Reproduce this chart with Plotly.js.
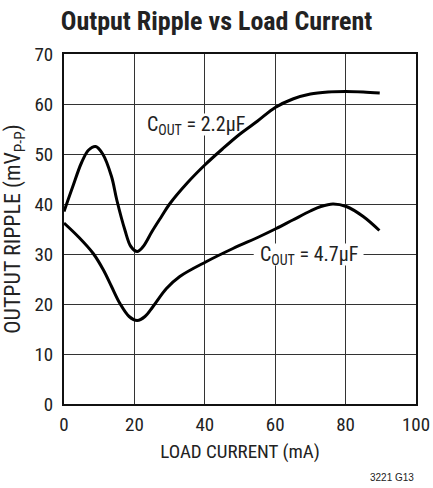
<!DOCTYPE html>
<html>
<head>
<meta charset="utf-8">
<script src="https://cdn.plot.ly/plotly-3.0.1.min.js"></script>
<style>html,body{margin:0;padding:0;background:#fff;}#chart{width:433px;height:488px;}</style>
</head>
<body>
<div id="chart"></div>
<script>
// Load current (mA) and output ripple (mVp-p)
const loadCurrent22 = [0, 2.5, 5, 7, 9, 11, 13.5, 15, 17.3, 19, 20.8, 22.5, 25, 27.7, 30, 35, 40, 45, 50, 55, 60, 65, 70, 75, 80, 85, 89.7];
const ripple22      = [38.5, 43.5, 48.3, 50.8, 51.5, 50, 45.5, 40.8, 34.8, 31.5, 30.5, 31.5, 34.5, 37.5, 40, 44.2, 47.8, 51, 54, 56.6, 59.3, 61, 62, 62.4, 62.5, 62.4, 62.2];
const loadCurrent47 = [0, 4, 8.3, 11.2, 13.5, 15.9, 18.5, 20.8, 23, 25.3, 29.1, 32.9, 40.5, 48, 55.6, 60.3, 65, 70, 73, 76.4, 80.2, 85, 89.6];
const ripple47      = [36.2, 33.5, 30.1, 26.8, 23.5, 20.1, 17.5, 16.7, 17.5, 19.5, 23.1, 25.5, 28.5, 31.1, 33.5, 35.1, 36.8, 38.6, 39.5, 40, 39.5, 37.5, 34.7];
const xTicks = [0, 20, 40, 60, 80, 100];
const yTicks = [0, 10, 20, 30, 40, 50, 60, 70];
const labels = [
  {x: 37.5, y: 55.9, text: "C<sub>OUT</sub> = 2.2µF", halfW: 13.8},
  {x: 69.5, y: 29.9, text: "C<sub>OUT</sub> = 4.7µF", halfW: 15.6}
];

const FONT = "'Roboto Condensed', Roboto, sans-serif";

const traces = [
  {x: loadCurrent22, y: ripple22, mode: 'lines', line: {color: '#000', width: 3, shape: 'spline', smoothing: 1}, hoverinfo: 'skip', showlegend: false},
  {x: loadCurrent47, y: ripple47, mode: 'lines', line: {color: '#000', width: 3, shape: 'spline', smoothing: 1}, hoverinfo: 'skip', showlegend: false}
];

const layout = {
  width: 433, height: 488,
  margin: {l: 64, r: 17, t: 54, b: 84},
  paper_bgcolor: '#fff', plot_bgcolor: '#fff',
  font: {family: FONT, color: '#222', size: 19},
  title: {text: '<b>Output Ripple vs Load Current</b>', x: 0.5, xref: 'container', y: 0.958, yanchor: 'middle', xanchor: 'center',
          font: {family: FONT, size: 26, color: '#222'}},
  xaxis: {range: [0, 100], tickvals: xTicks, ticktext: xTicks.map(String), showgrid: true, gridcolor: '#333', gridwidth: 1,
          zeroline: false, showline: true, linecolor: '#111', linewidth: 2, mirror: true, ticks: '', ticklen: 0,
          ticklabelstandoff: 2,
          tickfont: {family: FONT, size: 19, color: '#222'},
          title: {text: 'LOAD CURRENT (mA)', font: {family: FONT, size: 19, color: '#222'}, standoff: 10}},
  yaxis: {range: [0, 70], tickvals: yTicks, ticktext: yTicks.map(String), showgrid: true, gridcolor: '#333', gridwidth: 1,
          zeroline: false, showline: true, linecolor: '#111', linewidth: 2, mirror: true, ticks: '', ticklen: 0,
          ticklabelstandoff: 5,
          tickfont: {family: FONT, size: 19, color: '#222'},
          title: {text: 'OUTPUT RIPPLE (mV<sub>P-P</sub>)', font: {family: FONT, size: 22, color: '#222'}, standoff: 8}},
  shapes: labels.map(l => ({type: 'rect', xref: 'x', yref: 'y', layer: 'between',
      x0: l.x - l.halfW, x1: l.x + l.halfW, y0: l.y - 2.2, y1: l.y + 2.2,
      fillcolor: '#fff', line: {width: 0}})),
  annotations: labels.map(l => ({x: l.x, y: l.y, xref: 'x', yref: 'y', text: l.text, showarrow: false,
      font: {family: FONT, size: 20, color: '#222'}})).concat([
    {x: 1, y: 0, xref: 'paper', yref: 'paper', xanchor: 'right', yanchor: 'top', yshift: -66, xshift: 0, text: '3221 G13', showarrow: false,
     font: {family: 'Liberation Sans, Arial, sans-serif', size: 10, color: '#222'}}
  ])
};

Plotly.newPlot('chart', traces, layout, {staticPlot: true, displayModeBar: false});
</script>
</body>
</html>
